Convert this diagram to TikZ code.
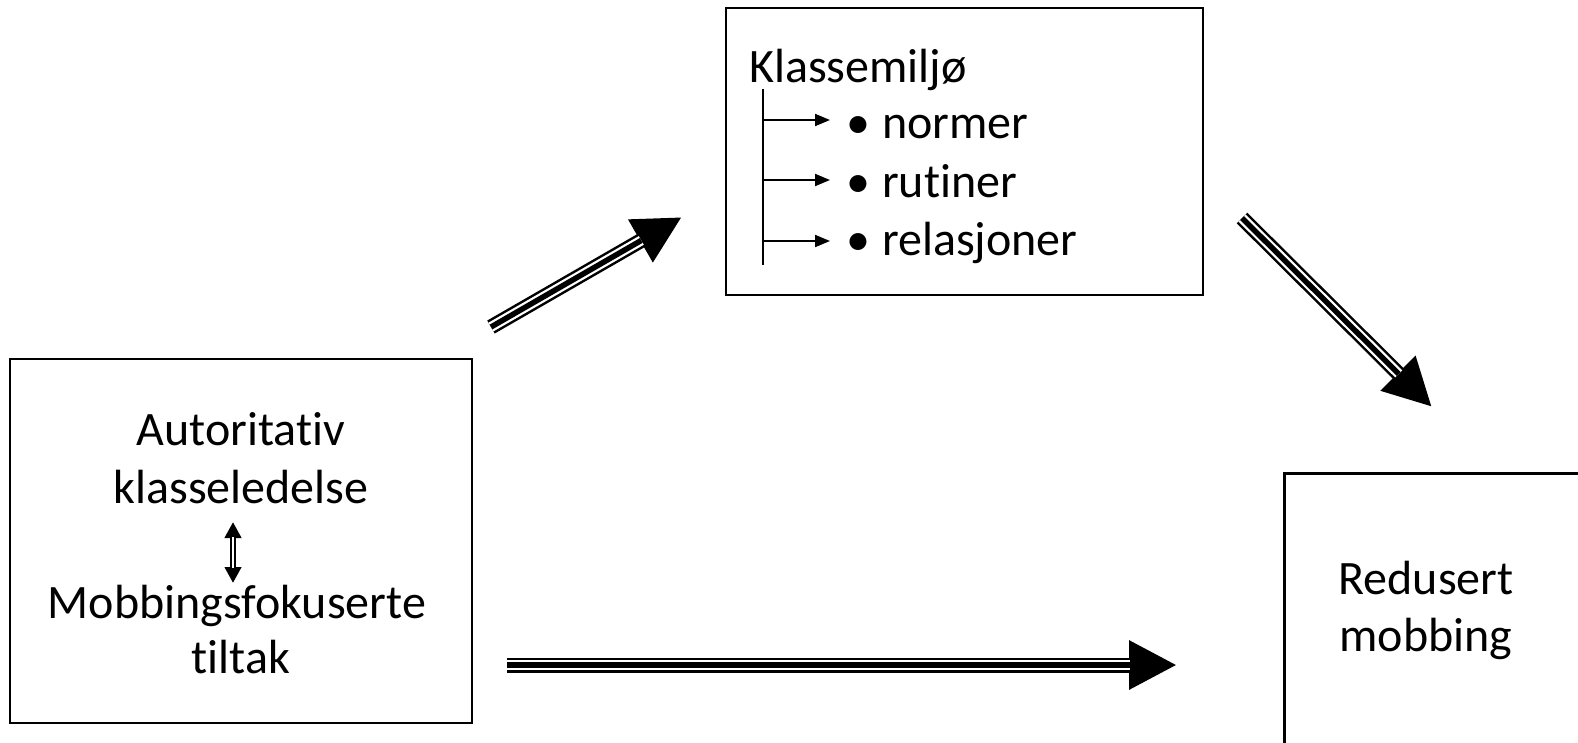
\documentclass[tikz,border=0pt]{standalone}
\usepackage{fontspec}
\setmainfont{Carlito}[Ligatures=NoCommon]
\usetikzlibrary{arrows.meta}
\tikzset{
  box/.style={draw=black, line width=2.6pt, inner sep=0pt},
  lbl/.style={font=\fontsize{48}{57}\selectfont, inner sep=0pt, anchor=base},
  bigtip/.style={-{Triangle[length=48pt,width=46pt]}},
  triple/.style={line width=15pt, bigtip},
  tripgap/.style={draw=white, line width=10pt, shorten >=47pt},
  tripmid/.style={draw=black, line width=5.5pt, shorten >=47pt},
  smallarr/.style={line width=2pt, -{Triangle[length=15pt,width=12pt]}},
}
\begin{document}
\begin{tikzpicture}[x=1pt,y=-1pt]
\useasboundingbox (0,0) rectangle (1578,742);
\clip (0,0) rectangle (1578,742);
% boxes
\node[box, minimum width=462pt, minimum height=364pt] (left) at (241,541) {};
\node[box, minimum width=477pt, minimum height=287pt] (klasse) at (964.5,151.5) {};
\node[box, minimum width=400pt, minimum height=320pt, anchor=north west] (red) at (1283,472) {};
% left texts
\node[lbl] (t1) at (241,445) {Autoritativ};
\node[lbl] (t2) at (241,503) {klasseledelse};
\node[lbl] (t3) at (237,618) {Mobbingsfokuserte};
\node[lbl] (t4) at (241,673) {tiltak};
% small double arrow
\coordinate (da1) at (233,522);
\coordinate (da2) at (233,583);
\draw[line width=6pt, {Triangle[length=16pt,width=16pt]}-{Triangle[length=16pt,width=16pt]}] (da1) -- (da2);
\draw[white, line width=2pt, shorten <=15pt, shorten >=15pt] (da1) -- (da2);
% Klassemiljo
\node[lbl, anchor=base west] (km) at (749,82) {Klassemiljø};
\coordinate (vtop) at (763,89);
\coordinate (vbot) at (763,265);
\draw[line width=2pt] (vtop) -- (vbot);
\coordinate (s1) at (763,120); \coordinate (e1) at (830,120);
\coordinate (s2) at (763,180); \coordinate (e2) at (830,180);
\coordinate (s3) at (763,241); \coordinate (e3) at (830,241);
\draw[smallarr] (s1) -- (e1);
\draw[smallarr] (s2) -- (e2);
\draw[smallarr] (s3) -- (e3);
\node[lbl, anchor=base west] (b1) at (846,138) {\makebox[36pt][l]{•}normer};
\node[lbl, anchor=base west] (b2) at (846,197) {\makebox[36pt][l]{•}rutiner};
\node[lbl, anchor=base west] (b3) at (846,255) {\makebox[36pt][l]{•}relasjoner};
% Redusert mobbing
\node[lbl] (r1) at (1426,594) {Redusert};
\node[lbl] (r2) at (1426,651) {mobbing};
% big triple arrows
\coordinate (a1s) at (491,327); \coordinate (a1e) at (682,217);
\coordinate (a2s) at (1242,218); \coordinate (a2e) at (1432,407);
\coordinate (a3s) at (507,665); \coordinate (a3e) at (1177,665);
\foreach \s/\e in {a1s/a1e, a2s/a2e, a3s/a3e}{
  \draw[triple] (\s) -- (\e);
  \draw[tripgap] (\s) -- (\e);
  \draw[tripmid] (\s) -- (\e);
}
\end{tikzpicture}
\end{document}
